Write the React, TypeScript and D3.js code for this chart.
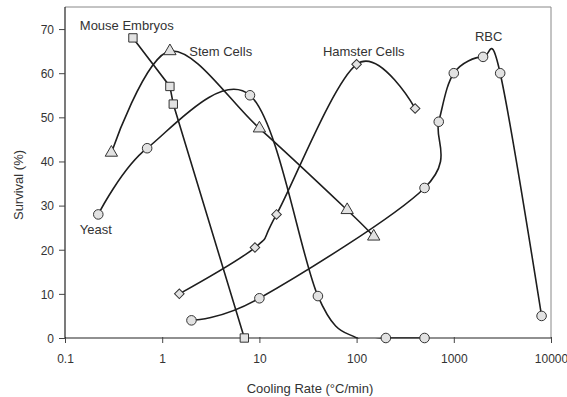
import React, { useRef, useEffect } from 'react';
import * as d3 from 'd3';

// cooling rate (°C/min) and survival (%) for each cell type
const mouseRates = [0.5, 1.2, 1.3, 7];
const mouseSurvival = [68, 57, 53, 0];

const stemRates = [0.3, 1.2, 10, 80, 150];
const stemSurvival = [42, 65, 47.5, 29, 23];

// yeast curve hits zero at 100 (no symbol drawn there)
const yeastRates = [0.22, 0.7, 8, 40, 100, 200, 500];
const yeastSurvival = [28, 43, 55, 9.5, 0, 0, 0];
const yeastMarked = [true, true, true, true, false, true, true];

const hamsterRates = [1.5, 9, 15, 100, 400];
const hamsterSurvival = [10, 20.5, 28, 62, 52];

const rbcRates = [2, 10, 500, 700, 1000, 2000, 3000, 8000];
const rbcSurvival = [4, 9, 34, 49, 60, 63.7, 60, 5];

const xTicks = [0.1, 1, 10, 100, 1000, 10000];
const yTicks = [0, 10, 20, 30, 40, 50, 60, 70];

// label anchors in data coordinates
const labels = [
  { text: 'Mouse Embryos', rate: 0.142, survival: 69.8 },
  { text: 'Stem Cells', rate: 1.9, survival: 64 },
  { text: 'Hamster Cells', rate: 45, survival: 64 },
  { text: 'RBC', rate: 1650, survival: 67.2 },
  { text: 'Yeast', rate: 0.142, survival: 23.6 },
];

const series = [
  { name: 'Yeast', rates: yeastRates, survival: yeastSurvival, marked: yeastMarked, marker: 'circle', smooth: true },
  { name: 'RBC', rates: rbcRates, survival: rbcSurvival, marker: 'circle', smooth: true },
  { name: 'Hamster', rates: hamsterRates, survival: hamsterSurvival, marker: 'diamond', smooth: true },
  { name: 'Stem', rates: stemRates, survival: stemSurvival, marker: 'triangle', smooth: true },
  { name: 'Mouse', rates: mouseRates, survival: mouseSurvival, marker: 'square', smooth: false },
];

const font = 'Liberation Sans, Arial, sans-serif';

const App = () => {
  const ref = useRef(null);

  useEffect(() => {
    const svg = d3.select(ref.current);
    svg.selectAll('*').remove();

    const margin = { top: 7, right: 16, bottom: 59, left: 65 };
    const width = 567 - margin.left - margin.right;
    const height = 397 - margin.top - margin.bottom;

    const x = d3.scaleLog().domain([0.1, 10000]).range([0, width]);
    const y = d3.scaleLinear().domain([0, 75]).range([height, 0]);

    const g = svg.append('g').attr('transform', `translate(${margin.left},${margin.top})`);

    g.append('clipPath')
      .attr('id', 'plot-clip')
      .append('rect')
      .attr('x', -6)
      .attr('y', -6)
      .attr('width', width + 12)
      .attr('height', height + 6.5);

    // frame (top + right)
    g.append('path')
      .attr('d', `M0,0H${width}V${height}`)
      .attr('fill', 'none')
      .attr('stroke', '#888')
      .attr('stroke-width', 1);

    // axes
    const xAxis = d3.axisBottom(x).tickValues(xTicks).tickSize(5).tickFormat((d) => String(d));
    const yAxis = d3.axisLeft(y).tickValues(yTicks).tickSize(6);

    const xg = g.append('g').attr('transform', `translate(0,${height})`).call(xAxis);
    const yg = g.append('g').call(yAxis);
    [xg, yg].forEach((ax) => {
      ax.select('.domain').attr('stroke', '#222').attr('stroke-width', 1.2);
      ax.selectAll('line').attr('stroke', '#444');
      ax.selectAll('text')
        .attr('fill', '#333')
        .style('font-family', font)
        .style('font-size', '12px');
    });
    xg.selectAll('line').attr('y1', -1);
    xg.selectAll('text').attr('dy', null).attr('y', 25);
    yg.selectAll('text').attr('x', -11).attr('dy', '0.36em');
    xg.select('.domain').attr('d', `M0,0H${width}`);
    yg.select('.domain').attr('d', `M0,0V${height}`);

    // lines
    const plot = g.append('g').attr('clip-path', 'url(#plot-clip)');
    series.forEach((s) => {
      const pts = s.rates.map((r, i) => [x(r), y(s.survival[i])]);
      const line = d3.line().curve(s.smooth ? d3.curveCatmullRom.alpha(0) : d3.curveLinear);
      plot.append('path')
        .attr('d', line(pts))
        .attr('fill', 'none')
        .attr('stroke', '#1e1e1e')
        .attr('stroke-width', 1.6);
    });

    // markers
    series.forEach((s) => {
      const grp = g.append('g');
      s.rates.forEach((r, i) => {
        if (s.marked && !s.marked[i]) return;
        const cx = x(r);
        const cy = y(s.survival[i]);
        let sym;
        if (s.marker === 'circle') sym = d3.symbol(d3.symbolCircle, 72);
        else if (s.marker === 'square') sym = d3.symbol(d3.symbolSquare, 70);
        else if (s.marker === 'triangle') sym = d3.symbol(d3.symbolTriangle, 66);
        else sym = d3.symbol(d3.symbolSquare, 46);
        grp.append('path')
          .attr('d', sym())
          .attr('transform', `translate(${cx},${cy})${s.marker === 'diamond' ? ' rotate(45)' : ''}`)
          .attr('fill', '#e2e2e2')
          .attr('stroke', '#333')
          .attr('stroke-width', 1);
      });
    });

    // series labels
    labels.forEach((l) => {
      g.append('text')
        .attr('x', x(l.rate))
        .attr('y', y(l.survival))
        .attr('fill', '#333')
        .style('font-family', font)
        .style('font-size', '13px')
        .text(l.text);
    });

    // axis titles
    svg.append('text')
      .attr('x', margin.left + width / 2 + 2)
      .attr('y', 393)
      .attr('text-anchor', 'middle')
      .attr('fill', '#333')
      .style('font-family', font)
      .style('font-size', '13px')
      .text('Cooling Rate (°C/min)');

    svg.append('text')
      .attr('transform', 'translate(23,185) rotate(-90)')
      .attr('text-anchor', 'middle')
      .attr('fill', '#333')
      .style('font-family', font)
      .style('font-size', '13px')
      .text('Survival (%)');
  }, []);

  return (
    <svg
      ref={ref}
      width={567}
      height={397}
      style={{ position: 'absolute', left: 0, top: 0, background: '#fff' }}
    />
  );
};

export default App;
